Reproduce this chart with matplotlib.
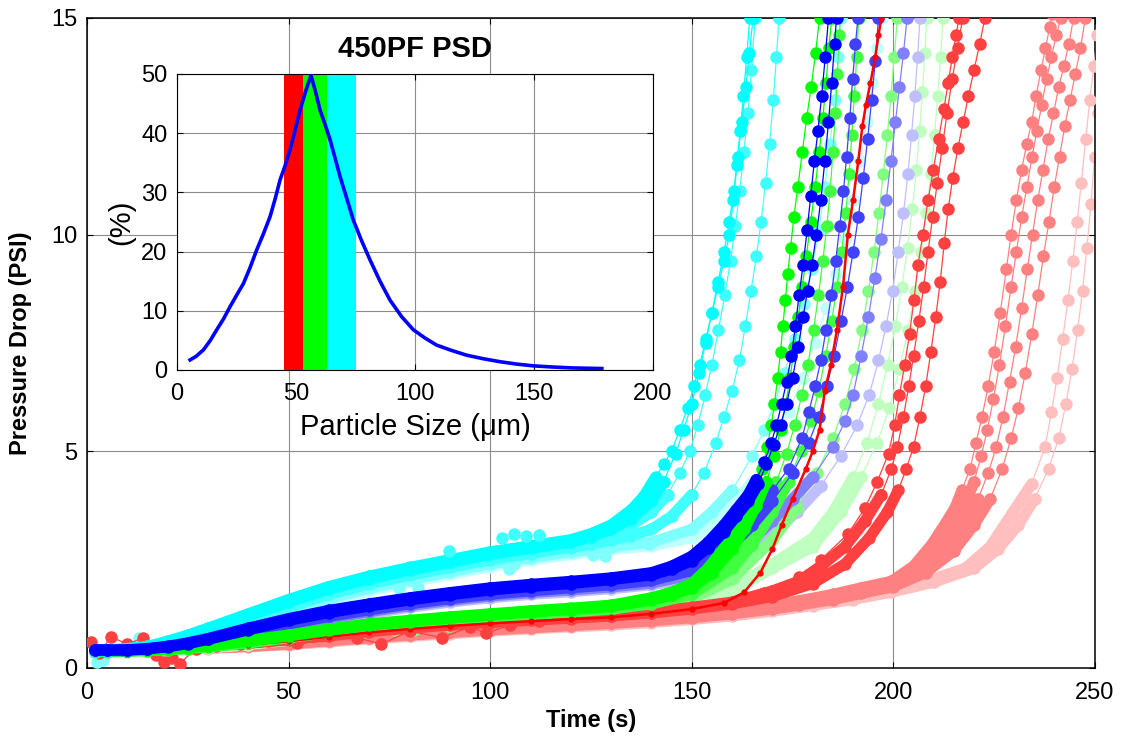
import matplotlib
matplotlib.use("Agg")
import matplotlib.pyplot as plt

plt.rcParams['font.family'] = ['Liberation Sans', 'DejaVu Sans']

# ---------------- inset: particle size distribution ----------------
psd_size = [5.5, 8, 11.1, 14, 16.7, 19.5, 22.3, 25, 27.9, 30.7, 33.5, 36.3, 39.1, 41.3, 43.3, 45.4,
            47.5, 49.6, 51.7, 54, 56.3, 58.2, 60.1, 62.2, 64.3, 66.4, 68.5, 71.3, 74.1, 77.6, 81.1,
            85.3, 89.5, 94.4, 99.3, 104.2, 109.1, 115.4, 121.7, 128.7, 135.7, 142.7, 149.7, 158, 166,
            172, 178.5]
psd_pct = [1.7, 2.3, 3.4, 5.0, 6.8, 8.6, 10.7, 12.6, 14.6, 17.3, 20.3, 23.0, 25.9, 29.0, 32.1, 34.5,
           37.2, 40.5, 43.9, 47.0, 49.8, 47.0, 43.9, 41.5, 38.9, 35.8, 32.7, 29.0, 25.3, 21.8, 18.6,
           15.0, 11.8, 9.0, 6.8, 5.4, 4.2, 3.3, 2.5, 1.9, 1.4, 1.0, 0.7, 0.5, 0.35, 0.3, 0.25]
# sieve cuts (um) of the three fractions
cuts = [45, 53, 63, 75]
cut_colors = ['#ff0000', '#00ff00', '#00ffff']

# ---------------- main chart: pressure drop runs ----------------
t_base = [2, 5, 10, 15, 20, 25, 30, 40, 50, 60, 70, 80, 90, 100, 110, 120]

# cyan (63-75 um)
c0a_flat = [.42, .42, .45, .50, .62, .76, .92, 1.25, 1.58, 1.88, 2.12, 2.32, 2.50, 2.68, 2.82, 2.96]
c0a_rise = [(125, 3.1), (130, 3.3), (135, 3.65), (138, 3.95), (141, 4.4), (143, 4.7), (145, 5.0),
            (147, 5.5), (149, 6.0), (150.5, 6.5), (152, 7.0), (153.5, 7.6), (155, 8.2), (156.5, 8.8),
            (158, 9.4), (159.3, 10.0), (160.3, 10.8), (161.2, 11.6), (162, 12.4), (162.8, 13.2),
            (163.6, 14.1), (164.4, 15.0)]
c0b_flat = [.40, .40, .43, .48, .58, .72, .88, 1.20, 1.52, 1.82, 2.06, 2.26, 2.44, 2.62, 2.76, 2.90]
c0b_rise = [(125, 3.03), (130, 3.2), (135, 3.45), (140, 3.85), (143, 4.3), (146, 4.95), (148, 5.5),
            (150, 6.1), (151.8, 6.8), (153.4, 7.5), (155, 8.2), (156.5, 8.9), (158, 9.6), (159.3, 10.3),
            (160.4, 11.0), (161.4, 11.8), (162.4, 12.6), (163.4, 13.4), (164.3, 14.2), (165.2, 15.0)]
c0c_flat = [.40, .40, .42, .46, .55, .68, .84, 1.15, 1.46, 1.76, 2.00, 2.20, 2.38, 2.56, 2.70, 2.84]
c0c_rise = [(125, 2.96), (130, 3.1), (135, 3.3), (140, 3.6), (144, 4.0), (147, 4.5), (149.5, 5.0),
            (151.5, 5.6), (153.3, 6.3), (155, 7.0), (156.6, 7.8), (158.2, 8.6), (159.6, 9.4),
            (160.8, 10.2), (161.9, 11.0), (162.9, 11.9), (163.9, 12.8), (164.8, 13.8), (165.7, 15.0)]
c1_flat = [.38, .39, .41, .45, .53, .65, .80, 1.10, 1.40, 1.70, 1.94, 2.14, 2.32, 2.50, 2.64, 2.78]
c1_rise = [(125, 2.86), (130, 2.95), (135, 3.05), (140, 3.2), (145, 3.5), (150, 4.0), (153, 4.5),
           (156, 5.2), (158, 5.8), (160, 6.4), (161.8, 7.1), (163.3, 7.9), (164.7, 8.7), (166, 9.5),
           (167.2, 10.3), (168.3, 11.2), (169.3, 12.1), (170.2, 13.1), (171, 14.1), (171.6, 15.0)]
c2a_flat = [.38, .38, .40, .43, .50, .60, .74, 1.02, 1.32, 1.60, 1.84, 2.04, 2.22, 2.40, 2.55, 2.68]
c2a_rise = [(125, 2.74), (130, 2.8), (140, 2.9), (150, 3.2), (155, 3.6), (160, 4.1), (165, 4.9),
            (168, 5.5), (170.5, 6.1), (173, 6.8), (175.5, 7.6), (177.8, 8.4), (179.8, 9.2),
            (181.5, 10.1), (183, 11.1), (184.3, 12.1), (185.4, 13.1), (186.3, 14.1), (187, 15.0)]
c2b_flat = [.37, .37, .39, .42, .48, .57, .70, .98, 1.26, 1.54, 1.78, 1.98, 2.16, 2.34, 2.49, 2.62]
c2b_rise = [(125, 2.68), (130, 2.74), (140, 2.82), (150, 3.0), (155, 3.3), (160, 3.7), (165, 4.3),
            (170, 5.1), (174, 5.9), (177.5, 6.7), (180.5, 7.5), (183.3, 8.3), (185.8, 9.1), (188, 9.9),
            (190, 10.8), (191.8, 11.7), (193.4, 12.6), (194.8, 13.5), (196, 14.3), (197.2, 15.0)]

# blue (whole powder)
b0a_flat = [.42, .42, .42, .45, .50, .58, .68, .92, 1.14, 1.33, 1.48, 1.62, 1.74, 1.85, 1.93, 2.00]
b0a_rise = [(130, 2.08), (140, 2.2), (145, 2.35), (150, 2.58), (154, 2.9), (158, 3.3), (161, 3.65),
            (164, 4.0), (166, 4.35), (168, 4.75), (169.7, 5.2), (171, 5.6), (172.3, 6.1), (173.5, 6.6),
            (174.7, 7.2), (175.7, 7.9), (176.6, 8.6), (177.6, 9.3), (178.6, 10.1), (179.5, 10.9),
            (180.4, 11.7), (181.3, 12.4), (182.2, 13.2), (183.1, 14.1), (183.9, 15.0)]
b0b_flat = [.41, .41, .41, .44, .49, .56, .66, .88, 1.10, 1.28, 1.43, 1.57, 1.69, 1.80, 1.88, 1.95]
b0b_rise = [(130, 2.04), (140, 2.15), (145, 2.28), (150, 2.48), (154, 2.78), (158, 3.15), (161, 3.5),
            (164, 3.85), (166.5, 4.25), (168.5, 4.7), (170.3, 5.15), (172, 5.6), (173.5, 6.1),
            (175, 6.7), (176.4, 7.4), (177.6, 8.1), (178.7, 8.7), (179.8, 9.3), (180.9, 10.0),
            (182, 10.8), (183, 11.7), (183.9, 12.6), (184.7, 13.5), (185.4, 14.4), (185.9, 15.0)]
b1a_flat = [.40, .40, .40, .43, .47, .54, .63, .84, 1.05, 1.23, 1.38, 1.52, 1.64, 1.75, 1.83, 1.90]
b1a_rise = [(130, 1.97), (140, 2.08), (150, 2.35), (155, 2.65), (160, 3.05), (165, 3.55), (170, 4.1),
            (174, 4.6), (177.3, 5.3), (179, 5.9), (180.6, 6.5), (182, 7.1), (183.3, 7.8), (184.6, 8.6),
            (185.7, 9.4), (186.7, 10.2), (187.6, 11.0), (188.4, 11.8), (189.2, 12.7), (189.9, 13.6),
            (190.6, 14.4), (191.2, 15.0)]
b1b_flat = [.40, .40, .40, .42, .46, .52, .61, .81, 1.01, 1.19, 1.34, 1.48, 1.60, 1.70, 1.78, 1.85]
b1b_rise = [(130, 1.92), (140, 2.02), (150, 2.25), (155, 2.5), (160, 2.85), (165, 3.3), (170, 3.85),
            (175, 4.5), (179, 5.2), (181.5, 5.8), (183.5, 6.5), (185.3, 7.2), (187, 8.0), (188.6, 8.8),
            (190, 9.6), (191.3, 10.4), (192.5, 11.3), (193.6, 12.2), (194.6, 13.1), (195.5, 14.0),
            (196.3, 15.0)]
b2_flat = [.39, .39, .39, .42, .45, .51, .59, .78, .98, 1.15, 1.30, 1.44, 1.56, 1.66, 1.74, 1.80]
b2_rise = [(130, 1.87), (140, 1.96), (150, 2.15), (160, 2.6), (165, 2.95), (170, 3.4), (175, 3.9),
           (180, 4.4), (185, 5.1), (188, 5.7), (190, 6.3), (192, 7.2), (193.8, 8.1), (195.4, 9.0),
           (196.9, 9.9), (198.2, 10.8), (199.4, 11.7), (200.5, 12.6), (201.5, 13.4), (202.5, 14.2),
           (203.4, 15.0)]
b3_flat = [.38, .38, .39, .41, .44, .49, .57, .75, .94, 1.11, 1.26, 1.40, 1.52, 1.62, 1.70, 1.76]
b3_rise = [(130, 1.83), (140, 1.92), (150, 2.08), (160, 2.45), (170, 3.1), (176, 3.6), (182, 4.2),
           (187, 4.9), (191, 5.6), (194, 6.3), (196.3, 7.1), (198.2, 7.9), (199.8, 8.7), (201.2, 9.6),
           (202.5, 10.5), (203.6, 11.4), (204.5, 12.3), (205.3, 13.2), (206, 14.1), (206.6, 15.0)]

# green (53-63 um)
g0a_flat = [.40, .40, .41, .42, .45, .48, .52, .64, .76, .90, 1.02, 1.10, 1.18, 1.25, 1.32, 1.38]
g0a_rise = [(130, 1.45), (140, 1.62), (145, 1.75), (150, 1.95), (154, 2.3), (157, 2.65), (160, 3.0),
            (162, 3.3), (164, 3.7), (166, 4.15), (167.5, 4.6), (168.7, 5.1), (169.7, 5.6), (170.5, 6.1),
            (171.3, 6.7), (172, 7.3), (172.6, 7.9), (173.2, 8.5), (173.8, 9.1), (174.5, 9.7),
            (175.3, 10.4), (176.3, 11.1), (177.4, 11.9), (178.5, 12.7), (179.6, 13.4), (180.7, 14.2),
            (181.7, 15.0)]
g0b_flat = [.39, .39, .40, .41, .44, .47, .51, .62, .74, .87, .99, 1.07, 1.15, 1.22, 1.29, 1.35]
g0b_rise = [(130, 1.42), (140, 1.57), (145, 1.68), (150, 1.85), (155, 2.2), (160, 2.75), (163, 3.2),
            (166, 3.75), (168.5, 4.3), (170.5, 4.9), (172, 5.5), (173.3, 6.1), (174.4, 6.7),
            (175.4, 7.4), (176.4, 8.1), (177.4, 8.8), (178.4, 9.5), (179.5, 10.3), (180.6, 11.1),
            (181.6, 11.9), (182.5, 12.7), (183.3, 13.5), (184, 14.3), (184.7, 15.0)]
g1a_flat = [.39, .39, .40, .41, .43, .46, .50, .60, .72, .84, .96, 1.04, 1.12, 1.19, 1.26, 1.32]
g1a_rise = [(130, 1.39), (140, 1.52), (150, 1.78), (155, 2.05), (160, 2.5), (165, 3.15), (168, 3.65),
            (171, 4.3), (173.5, 4.95), (175.5, 5.6), (177.3, 6.3), (178.8, 7.0), (180.2, 7.8),
            (181.4, 8.6), (182.5, 9.4), (183.5, 10.2), (184.3, 11.0), (185, 11.9), (185.6, 12.8),
            (186.1, 13.7), (186.6, 14.6), (186.9, 15.2)]
g1b_flat = [.38, .38, .39, .40, .42, .45, .49, .58, .70, .82, .93, 1.01, 1.09, 1.16, 1.23, 1.29]
g1b_rise = [(130, 1.36), (140, 1.48), (150, 1.7), (160, 2.3), (165, 2.85), (170, 3.6), (174, 4.3),
            (177, 5.0), (179.5, 5.7), (181.5, 6.4), (183.2, 7.2), (184.7, 8.0), (186, 8.8), (187.2, 9.6),
            (188.2, 10.5), (189, 11.4), (189.7, 12.3), (190.3, 13.2), (190.9, 14.1), (191.4, 15.0)]
g2_flat = [.38, .38, .39, .40, .42, .44, .48, .57, .68, .79, .90, .98, 1.06, 1.13, 1.19, 1.25]
g2_rise = [(130, 1.32), (140, 1.42), (150, 1.6), (160, 2.05), (170, 2.95), (176, 3.7), (181, 4.5),
           (185, 5.3), (188, 6.1), (190.3, 6.9), (192.2, 7.8), (193.8, 8.7), (195.2, 9.6), (196.4, 10.5),
           (197.5, 11.4), (198.5, 12.3), (199.4, 13.2), (200.2, 14.1), (201, 15.0)]
g3a_flat = [.37, .37, .38, .39, .41, .43, .47, .55, .66, .77, .88, .96, 1.03, 1.10, 1.16, 1.22]
g3a_rise = [(130, 1.28), (140, 1.37), (150, 1.52), (160, 1.85), (170, 2.4), (180, 3.0), (185, 3.6),
            (190, 4.4), (193.5, 5.2), (196.3, 6.1), (198.6, 7.0), (200.5, 7.9), (202.1, 8.8),
            (203.5, 9.7), (204.7, 10.6), (205.7, 11.5), (206.5, 12.4), (207.2, 13.3), (207.8, 14.2),
            (208.3, 15.0)]
g3b_flat = [.37, .37, .38, .39, .41, .43, .46, .54, .64, .75, .86, .94, 1.01, 1.08, 1.14, 1.20]
g3b_rise = [(130, 1.26), (140, 1.34), (150, 1.48), (160, 1.78), (170, 2.3), (180, 2.8), (187, 3.6),
            (192, 4.4), (196, 5.2), (199, 6.0), (201.5, 6.9), (203.6, 7.8), (205.4, 8.7), (206.9, 9.6),
            (208.2, 10.5), (209.3, 11.4), (210.2, 12.3), (211, 13.2), (211.7, 14.1), (212.3, 15.0)]

# red (45-53 um)
r0_flat = [.40, .40, .40, .42, .45, .48, .50, .54, .62, .72, .82, .90, .97, 1.03, 1.08, 1.13]
r0_rise = [(130, 1.17), (140, 1.25), (150, 1.36), (158, 1.5), (163, 1.75), (167, 2.2), (170, 2.75),
           (172.3, 3.3), (175, 3.9), (178.3, 4.6), (180, 5.0), (181.7, 5.5), (183, 6.4), (184.5, 7.0),
           (186, 7.8), (187.5, 8.8), (188.7, 10.0), (190, 10.8), (191.3, 11.7), (192.3, 12.5),
           (193.2, 13.0), (194.3, 13.5), (195.5, 14.1), (196.3, 14.6), (197, 15.0)]
r1a_run = [(1, .6), (3, .35), (6, .72), (10, .55), (14, .7), (17, .3), (19, .15), (21, .22), (23, .1),
           (27, .45), (32, .5), (38, .55), (45, .62), (52, .58), (60, .75), (67, .7), (73, .55),
           (80, .85), (88, .7), (95, .95), (99, .8), (105, 1.0), (112, 1.08), (120, 1.12), (130, 1.2),
           (140, 1.28), (150, 1.38), (160, 1.5), (168, 1.72), (176.5, 2.1), (182, 2.5), (188.8, 3.1),
           (193, 3.7), (196, 4.3), (198.8, 4.95), (200.3, 5.6), (201.5, 6.3), (202.8, 7.0), (204, 7.7),
           (205.1, 8.5), (206.1, 9.3), (207.3, 10.0), (208.6, 10.8), (209.9, 11.5), (211.2, 12.2),
           (212.5, 12.9), (213.6, 13.5), (214.6, 14.1), (215.5, 14.6), (216.3, 15.0)]
r1b_flat = [.42, .42, .42, .44, .47, .50, .53, .58, .66, .76, .86, .94, 1.01, 1.07, 1.12, 1.17]
r1b_rise = [(130, 1.22), (140, 1.3), (150, 1.4), (160, 1.52), (170, 1.78), (176.5, 2.0), (182, 2.35),
            (188, 2.8), (193, 3.4), (197, 4.0), (199.5, 4.6), (201, 5.1), (202.5, 5.8), (203.8, 6.5),
            (205, 7.2), (206.3, 8.0), (207.5, 8.8), (208.6, 9.6), (209.7, 10.4), (210.9, 11.2),
            (212.1, 12.0), (213.3, 12.8), (214.6, 13.6), (215.9, 14.3), (217.2, 15.0)]
r1c_flat = [.41, .41, .41, .43, .46, .49, .52, .57, .65, .74, .84, .92, .99, 1.05, 1.10, 1.15]
r1c_rise = [(130, 1.2), (140, 1.27), (150, 1.36), (160, 1.48), (170, 1.65), (180, 1.95), (188, 2.4),
            (194, 3.0), (198.5, 3.6), (201.2, 4.1), (203.2, 4.6), (205, 5.1), (206.6, 5.8), (208, 6.5),
            (209.3, 7.3), (210.5, 8.1), (211.6, 8.9), (212.6, 9.8), (213.6, 10.6), (214.7, 11.3),
            (216, 12.0), (217.3, 12.6), (218.6, 13.2), (220, 13.8), (221.4, 14.4), (222.7, 15.0)]
r2a_flat = [.40, .40, .40, .41, .43, .45, .48, .52, .58, .66, .73, .80, .86, .92, .98, 1.03]
r2a_rise = [(130, 1.08), (140, 1.15), (150, 1.22), (160, 1.32), (170, 1.45), (176.5, 1.55), (185, 1.7),
            (192, 1.85), (199.5, 2.0), (205, 2.35), (209.5, 2.85), (213, 3.35), (215.3, 3.7), (217, 4.1),
            (219, 4.6), (220.5, 5.2), (222, 5.8), (223.5, 6.5), (225, 7.3), (226.5, 8.2), (228, 9.2),
            (229.2, 10.0), (230.5, 10.8), (231.8, 11.5), (233.1, 12.1), (234.3, 12.6), (235.4, 13.2),
            (236.6, 13.8), (237.7, 14.3), (238.8, 14.8), (239.3, 15.1)]
r2b_flat = [.40, .40, .40, .41, .43, .45, .47, .51, .57, .65, .72, .79, .85, .91, .96, 1.01]
r2b_rise = [(130, 1.06), (140, 1.13), (150, 1.2), (160, 1.3), (170, 1.42), (176.5, 1.5), (185, 1.65),
            (192, 1.8), (199.5, 1.95), (206, 2.3), (211, 2.8), (215, 3.3), (218, 3.8), (220, 4.3),
            (221.8, 4.9), (223.3, 5.5), (224.8, 6.2), (226.3, 7.0), (227.8, 7.9), (229.2, 8.8),
            (230.5, 9.6), (231.8, 10.4), (233.1, 11.1), (234.4, 11.8), (235.6, 12.4), (236.8, 13.0),
            (238, 13.6), (239.2, 14.1), (240.4, 14.6), (241.5, 15.0)]
r2c_flat = [.39, .39, .39, .40, .42, .44, .47, .50, .56, .64, .71, .77, .83, .89, .94, .99]
r2c_rise = [(130, 1.04), (140, 1.1), (150, 1.18), (160, 1.27), (170, 1.38), (176.5, 1.48), (185, 1.62),
            (192, 1.76), (200, 1.92), (207, 2.25), (213, 2.75), (217.5, 3.3), (221, 3.9), (223.5, 4.5),
            (225.5, 5.1), (227.2, 5.8), (228.8, 6.6), (230.3, 7.4), (231.8, 8.3), (233.2, 9.2),
            (234.5, 10.0), (235.8, 10.8), (237.1, 11.5), (238.4, 12.2), (239.7, 12.8), (241, 13.4),
            (242.3, 13.9), (243.5, 14.4), (244.7, 15.0)]
r2d_flat = [.39, .39, .39, .40, .42, .44, .46, .50, .55, .63, .70, .76, .82, .88, .93, .98]
r2d_rise = [(130, 1.03), (140, 1.09), (150, 1.16), (160, 1.25), (170, 1.36), (176.5, 1.45), (185, 1.58),
            (192, 1.72), (200, 1.88), (208, 2.2), (215, 2.7), (220, 3.3), (224, 3.9), (227, 4.6),
            (229.2, 5.3), (231, 6.0), (232.7, 6.8), (234.3, 7.7), (235.8, 8.6), (237.2, 9.5),
            (238.6, 10.3), (239.9, 11.1), (241.2, 11.8), (242.5, 12.5), (243.8, 13.1), (245.1, 13.7),
            (246.4, 14.3), (247.6, 15.0)]
r3a_flat = [.39, .39, .39, .40, .42, .44, .46, .50, .55, .62, .69, .75, .81, .87, .93, .98]
r3a_rise = [(130, 1.02), (140, 1.08), (150, 1.15), (160, 1.24), (170, 1.36), (180, 1.5), (190, 1.65),
            (199.5, 1.8), (208, 2.0), (217.8, 2.3), (224, 2.8), (229.3, 3.55), (234.3, 4.25),
            (237.6, 5.1), (239.2, 5.9), (240.6, 6.7), (242, 7.6), (243.3, 8.5), (244.5, 9.4),
            (245.6, 10.3), (246.6, 11.2), (247.7, 12.2), (248.7, 13.1), (249.7, 13.9), (250.6, 14.6)]
r3b_flat = [.38, .38, .38, .39, .41, .43, .45, .49, .54, .60, .67, .73, .79, .85, .90, .95]
r3b_rise = [(130, .99), (140, 1.05), (150, 1.12), (160, 1.2), (170, 1.31), (180, 1.44), (190, 1.58),
            (199.5, 1.75), (210, 1.98), (220, 2.3), (226, 2.75), (231, 3.3), (235, 3.9), (238.5, 4.6),
            (241, 5.3), (242.8, 6.1), (244.3, 6.9), (245.7, 7.8), (246.9, 8.7), (248, 9.7), (249, 10.7),
            (249.9, 11.8), (250.8, 12.8)]

# stray samples off the bands
cyan_stray_t = [2.4, 4.0, 13, 77.3, 82.2, 104.6, 105.8, 125.5, 128.5, 139.5]
cyan_stray_p = [.15, .18, .7, 1.84, 1.84, 2.28, 2.4, 2.6, 2.58, 2.86]
cyan1_stray_t = [89.7, 103, 106, 108.8, 112]
cyan1_stray_p = [2.7, 3.0, 3.1, 3.05, 3.08]
green_stray_t = [67.4, 76.5, 81.2, 89.7, 102]
green_stray_p = [.78, .88, .88, .97, 1.13]

shades = {
    'c0': (0, 1, 1), 'c1': (.25, 1, 1), 'c2': (.5, 1, 1), 'c3': (.75, 1, 1),
    'b0': (0, 0, 1), 'b1': (.25, .25, 1), 'b2': (.5, .5, 1), 'b3': (.75, .75, 1),
    'g0': (0, 1, 0), 'g1': (.25, 1, .25), 'g2': (.5, 1, .5), 'g3': (.75, 1, .75),
    'r0': (1, 0, 0), 'r1': (1, .25, .25), 'r2': (1, .5, .5), 'r3': (1, .75, .75),
}


def run(flat, rise):
    t = t_base + [a for a, b in rise]
    p = flat + [b for a, b in rise]
    return t, p


# drawing order: pale runs first, saturated ones on top
runs = [
    (run(r3b_flat, r3b_rise), 'r3'), (run(r3a_flat, r3a_rise), 'r3'),
    (run(r2d_flat, r2d_rise), 'r2'), (run(r2c_flat, r2c_rise), 'r2'),
    (run(r2b_flat, r2b_rise), 'r2'), (run(r2a_flat, r2a_rise), 'r2'),
    (run(g3b_flat, g3b_rise), 'g3'), (run(g3a_flat, g3a_rise), 'g3'),
    (run(b3_flat, b3_rise), 'b3'), (run(c2b_flat, c2b_rise), 'c3'),
    (run(g2_flat, g2_rise), 'g2'), (run(b2_flat, b2_rise), 'b2'),
    (run(c2a_flat, c2a_rise), 'c2'),
    (run(r1c_flat, r1c_rise), 'r1'), (run(r1b_flat, r1b_rise), 'r1'),
    (([a for a, b in r1a_run], [b for a, b in r1a_run]), 'r1-noisy'),
    (run(g1b_flat, g1b_rise), 'g1'), (run(g1a_flat, g1a_rise), 'g1'),
    (run(b1b_flat, b1b_rise), 'b1'), (run(b1a_flat, b1a_rise), 'b1'),
    (run(c1_flat, c1_rise), 'c1'), (run(c0c_flat, c0c_rise), 'c1'),
    (run(r0_flat, r0_rise), 'r0'),
    (run(g0b_flat, g0b_rise), 'g0'), (run(g0a_flat, g0a_rise), 'g0'),
    (run(c0b_flat, c0b_rise), 'c0'), (run(c0a_flat, c0a_rise), 'c0'),
    (run(b0b_flat, b0b_rise), 'b0'), (run(b0a_flat, b0a_rise), 'b0'),
]

fig = plt.figure(figsize=(11.26, 7.40), dpi=100)
ax = fig.add_axes([87 / 1126, 72 / 740, 1008 / 1126, 650 / 740])

z = 2
for (t, p), key in runs:
    col = shades[key[:2]]
    noisy = key.endswith('noisy')
    if key == 'r0':
        ax.plot(t, p, '-o', color=col, lw=1.8, ms=3.5, zorder=z)
    else:
        if not noisy:
            tb = [a for a, b in zip(t, p) if b <= 4.4]
            pb = [b for a, b in zip(t, p) if b <= 4.4]
            ax.plot(tb, pb, color=col, lw=8, solid_capstyle='round',
                    solid_joinstyle='round', zorder=z)
        ax.plot(t, p, '-o', color=col, lw=0.9, ms=8, mec=col, zorder=z + 0.5)
    z += 1
    if key == 'c2':
        ax.plot(cyan_stray_t, cyan_stray_p, 'o', color=shades['c2'], ms=8, zorder=z)
    if key == 'g2':
        ax.plot(green_stray_t, green_stray_p, 'o', color=shades['g2'], ms=8, zorder=z)
ax.plot(cyan1_stray_t, cyan1_stray_p, 'o', color=shades['c1'], ms=8, zorder=z)

ax.set_xlim(0, 250)
ax.set_ylim(0, 15)
ax.set_xticks([0, 50, 100, 150, 200, 250])
ax.set_yticks([0, 5, 10, 15])
ax.grid(True, color='#8c8c8c', lw=0.8)
ax.set_axisbelow(True)
ax.tick_params(direction='in', length=4, width=0.8, top=True, right=True, labelsize=17)
ax.tick_params(axis='x', pad=10)
ax.tick_params(axis='y', pad=7)
for s in ax.spines.values():
    s.set_linewidth(1.1)
ax.set_xlabel('Time (s)', fontsize=17, fontweight='bold', labelpad=4)
ax.set_ylabel('Pressure Drop (PSI)', fontsize=17, fontweight='bold', labelpad=14)

# inset
ax2 = fig.add_axes([177 / 1126, 0.5, 476 / 1126, 0.4])
ax2.set_facecolor('white')
for i in range(3):
    ax2.axvspan(cuts[i], cuts[i + 1], color=cut_colors[i], lw=0, zorder=1)
ax2.plot(psd_size, psd_pct, color=(0, 0, 1), lw=2.6, zorder=3)
ax2.set_xlim(0, 200)
ax2.set_ylim(0, 50)
ax2.set_xticks([0, 50, 100, 150, 200])
ax2.set_yticks([0, 10, 20, 30, 40, 50])
ax2.grid(True, color='#8c8c8c', lw=0.8, zorder=0)
ax2.set_axisbelow(True)
ax2.tick_params(direction='in', length=4, width=0.8, top=True, right=True, labelsize=17)
ax2.tick_params(axis='x', pad=9)
ax2.tick_params(axis='y', pad=7)
ax2.set_xlabel('Particle Size (\u03bcm)', fontsize=21, labelpad=6)
ax2.set_ylabel('(%)', fontsize=21, labelpad=4)
ax2.set_title('450PF PSD', fontsize=21, fontweight='bold', pad=12)

fig.savefig('out.png', dpi=100)
